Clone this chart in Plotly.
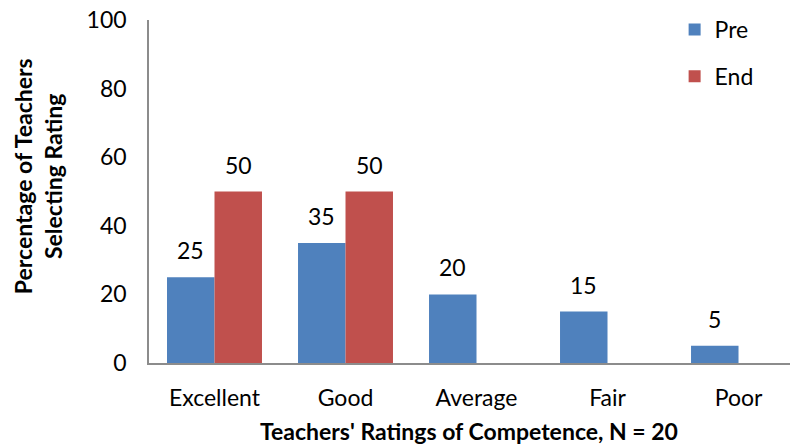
import plotly.graph_objects as go

categories = ["Excellent", "Good", "Average", "Fair", "Poor"]
pre = [25, 35, 20, 15, 5]
end = [50, 50, 0, 0, 0]

FONT = "Lato"
SIZE = 23
COLORS = {"Pre": "#4F81BD", "End": "#C0504D"}

# px per category = 641 / 4.893, bars fill 72.5% of it, two per group
HALF_BAR = 641 / 4.893 * 0.725 / 4

fig = go.Figure()
for name, values in [("Pre", pre), ("End", end)]:
    fig.add_trace(go.Bar(
        name=name, x=categories, y=values,
        marker=dict(color=COLORS[name], line=dict(width=0)),
        legendgroup=name,
    ))

# value labels sit a little higher above the bars than plotly's own "outside" text
for values, shift in [(pre, -HALF_BAR), (end, HALF_BAR)]:
    for cat, v in zip(categories, values):
        if not v:
            continue
        fig.add_annotation(
            x=cat, y=v, text=str(v), showarrow=False,
            xshift=shift, yshift=11, yanchor="bottom",
            font=dict(size=SIZE, family=FONT, color="black"),
        )

fig.update_layout(
    width=791, height=445,
    margin=dict(l=149, r=1, t=20, b=82, autoexpand=False),
    plot_bgcolor="white", paper_bgcolor="white",
    font=dict(family=FONT, size=SIZE, color="black"),
    barmode="group", bargap=0.275, bargroupgap=0,
    xaxis=dict(
        range=[-0.5, 4.393], showline=True, linecolor="#8C8C8C", linewidth=1.5,
        ticks="", showgrid=False, tickfont=dict(size=SIZE), ticklabelstandoff=14,
    ),
    yaxis=dict(
        range=[0, 100], dtick=20, showline=True, linecolor="#8C8C8C", linewidth=1.5,
        ticks="", showgrid=False, zeroline=False, tickfont=dict(size=SIZE),
        ticklabelstandoff=16,
    ),
    legend=dict(
        x=0.82, y=1.035, xanchor="left", yanchor="top",
        traceorder="grouped", tracegroupgap=14,
        font=dict(size=SIZE), bgcolor="rgba(0,0,0,0)",
        itemwidth=30,
    ),
)

fig.add_annotation(
    text="<b>Percentage of Teachers</b><br><b>Selecting Rating</b>",
    xref="paper", yref="paper", x=-0.173, y=0.545,
    xanchor="center", yanchor="middle", textangle=-90,
    showarrow=False, font=dict(size=SIZE, family=FONT, color="black"),
)
fig.add_annotation(
    text="<b>Teachers' Ratings of Competence, N = 20</b>",
    xref="paper", yref="paper", x=0.499, y=-0.198,
    xanchor="center", yanchor="middle", borderpad=0,
    showarrow=False, font=dict(size=SIZE, family=FONT, color="black"),
)

# drop the default page margin so the figure sits at the window's corner
fig.write_html(
    "out.html",
    config={"displayModeBar": False},
    post_script="document.body.style.margin='0';document.body.style.overflow='hidden';",
)
